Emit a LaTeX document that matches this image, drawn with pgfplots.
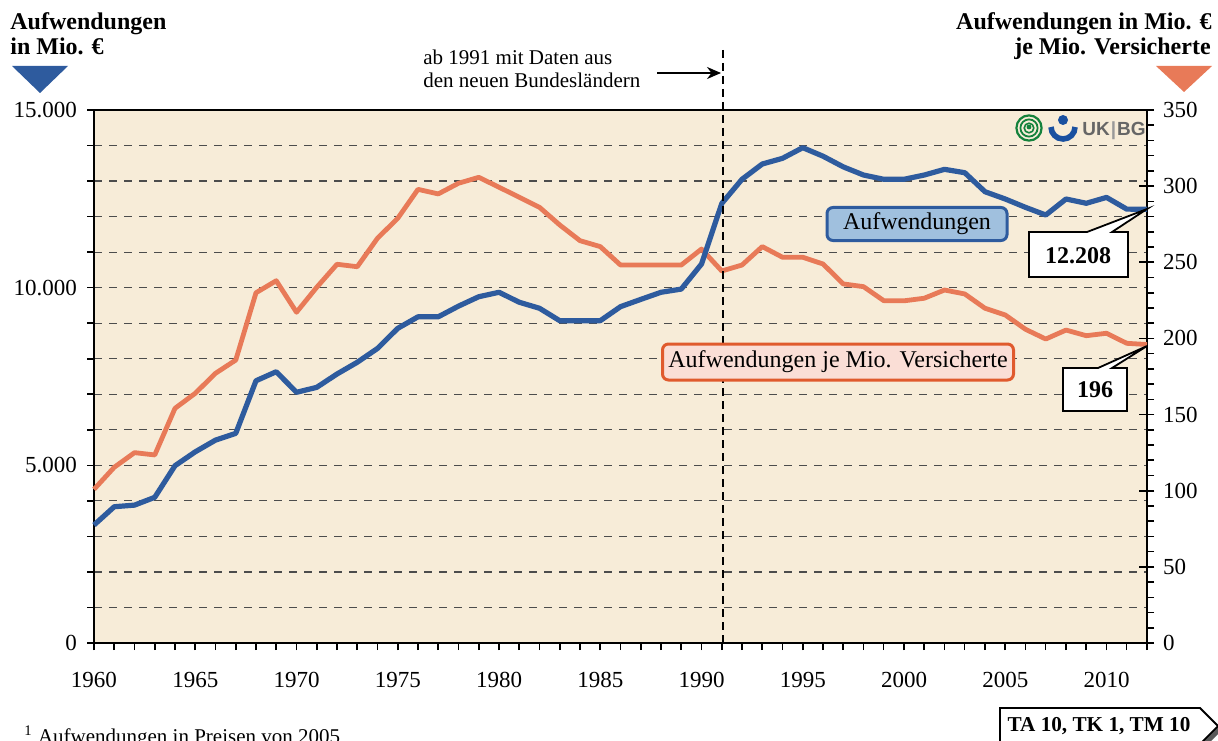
\documentclass[border=0pt]{standalone}
\usepackage{fontspec}
\setmainfont{Liberation Serif}
\newfontfamily\logofont{Liberation Sans}
\usepackage{pgfplots}
\pgfplotsset{compat=1.18}
\usetikzlibrary{arrows.meta}

\definecolor{bgcol}{RGB}{247,236,216}
\definecolor{blueline}{RGB}{46,91,158}
\definecolor{orangeline}{RGB}{232,122,88}
\definecolor{bluebox}{RGB}{160,192,222}
\definecolor{pinkbox}{RGB}{250,222,214}
\definecolor{pinkborder}{RGB}{224,90,45}
\definecolor{logogreen}{RGB}{20,130,60}
\definecolor{logoblue}{RGB}{25,80,160}

\pgfplotsset{
  frame/.style={
    at={(47pt,48.5pt)}, anchor=south west,
    width=526.5pt, height=266.5pt, scale only axis,
    xmin=1960, xmax=2012, clip=false,
    /pgf/number format/assume math mode=true,
    ticklabel style={font=\fontsize{11.5}{13}\selectfont},
    tick align=outside, major tick length=3.5pt, minor tick length=3.5pt,
    tick style={black, line width=0.8pt},
  }
}

\begin{document}
\begin{tikzpicture}
\useasboundingbox (0,0) rectangle (609pt,370pt);

% left scale: frame, grid, x axis
\begin{axis}[frame,
  ymin=0, ymax=15000, scaled y ticks=false,
  axis background/.style={fill=bgcol},
  axis line style={line width=0.9pt},
  xtick={1960,1965,...,2010}, minor xtick={1960,...,2012},
  ytick={0,5000,10000,15000}, minor ytick={1000,2000,...,14000},
  xtick pos=bottom, ytick pos=left,
  ymajorgrids, yminorgrids,
  major grid style={black!70, line width=0.6pt, dash pattern=on 4pt off 3.5pt},
  minor grid style={black!70, line width=0.6pt, dash pattern=on 4pt off 3.5pt},
  yticklabel style={xshift=-1.5pt, /pgf/number format/.cd, 1000 sep={.}},
  xticklabel style={yshift=-7.5pt, /pgf/number format/.cd, 1000 sep={}},
]
\draw[line width=1.4pt] (rel axis cs:0,1) -- (rel axis cs:0,0) -- (rel axis cs:1,0);
\end{axis}

% right scale: Aufwendungen je Mio. Versicherte
\begin{axis}[frame,
  ymin=0, ymax=350,
  axis x line=none, axis y line*=right,
  axis line style={line width=0.9pt},
  ytick={0,50,...,350}, minor ytick={10,20,...,340},
  extra y ticks={0,50,...,350}, extra y tick labels={},
  extra y tick style={tick align=inside, major tick length=4pt},
  yticklabel style={xshift=1pt},
]
\addplot[orangeline, line width=2.4pt, line join=round] coordinates {
(1960,100.9) (1961,115.4) (1962,125.0) (1963,123.5) (1964,154.1)
(1965,164.0) (1966,177.1) (1967,185.8) (1968,230.0) (1969,237.9)
(1970,217.2) (1971,233.6) (1972,248.7) (1973,247.1) (1974,265.8)
(1975,278.9) (1976,297.9) (1977,294.9) (1978,301.9) (1979,305.8)
(1980,299.3) (1981,292.7) (1982,286.1) (1983,274.5) (1984,264.2)
(1985,260.3) (1986,248.2) (1987,248.2) (1988,248.2) (1989,248.2)
(1990,258.7) (1991,244.3) (1992,248.2) (1993,260.3) (1994,253.3)
(1995,253.3) (1996,248.9) (1997,235.8) (1998,234.0) (1999,224.8)
(2000,224.7) (2001,226.4) (2002,231.8) (2003,229.2) (2004,219.8)
(2005,215.4) (2006,206.0) (2007,199.6) (2008,205.5) (2009,201.8)
(2010,203.4) (2011,196.8) (2012,196)
};
\end{axis}

% left scale: Aufwendungen in Mio. EUR
\begin{axis}[frame, ymin=0, ymax=15000, hide axis]
\addplot[blueline, line width=2.6pt, line join=round] coordinates {
(1960,3320) (1961,3835) (1962,3880) (1963,4100) (1964,4990)
(1965,5380) (1966,5710) (1967,5900) (1968,7380) (1969,7635)
(1970,7055) (1971,7195) (1972,7570) (1973,7900) (1974,8290)
(1975,8855) (1976,9180) (1977,9180) (1978,9480) (1979,9745)
(1980,9870) (1981,9590) (1982,9420) (1983,9070) (1984,9070)
(1985,9070) (1986,9465) (1987,9670) (1988,9870) (1989,9960)
(1990,10665) (1991,12370) (1992,13050) (1993,13480) (1994,13640)
(1995,13940) (1996,13700) (1997,13400) (1998,13170) (1999,13050)
(2000,13050) (2001,13170) (2002,13330) (2003,13235) (2004,12700)
(2005,12495) (2006,12260) (2007,12045) (2008,12495) (2009,12375)
(2010,12540) (2011,12210) (2012,12208)
};
\end{axis}

% annotations in pixel coordinates of the reference (origin top left)
\begin{scope}[x=0.5pt, y=-0.5pt, shift={(0,370pt)}]
  % titles
  \node[anchor=base west, inner sep=0, font=\bfseries\fontsize{12}{14}\selectfont] at (10,30) {Aufwendungen};
  \node[anchor=base west, inner sep=0, font=\bfseries\fontsize{12}{14}\selectfont] at (10,55) {in Mio. €};
  \node[anchor=base east, inner sep=0, font=\bfseries\fontsize{12}{14}\selectfont] at (1212,30) {Aufwendungen in Mio. €};
  \node[anchor=base east, inner sep=0, font=\bfseries\fontsize{12}{14}\selectfont] at (1211,55) {je Mio. Versicherte};
  \fill[blueline] (12,66) -- (68,66) -- (40,93) -- cycle;
  \fill[orangeline] (1156,66) -- (1212,66) -- (1184,92) -- cycle;

  % 1991 marker
  \draw[line width=0.6pt, dash pattern=on 4pt off 2.5pt] (723,50) -- (723,643);
  \draw[line width=1.1pt, -{Stealth[length=7pt,width=6pt]}] (657,73) -- (721,73);
  \node[anchor=base west, inner sep=0, font=\fontsize{10.5}{12}\selectfont] at (423,65) {ab 1991 mit Daten aus};
  \node[anchor=base west, inner sep=0, font=\fontsize{10.5}{12}\selectfont] at (423,88) {den neuen Bundesländern};

  % logos
  \draw[logogreen, line width=1.1pt] (1029,128) circle (6.3pt);
  \draw[logogreen, line width=0.9pt] (1029,128) circle (4.3pt);
  \draw[logogreen, line width=0.8pt] (1029,128) circle (2.4pt);
  \fill[logogreen] (1029,127) circle (1.2pt);
  \fill[logoblue] (1063,120) circle (2.5pt);
  \draw[logoblue, line width=2.8pt] (1075,127) arc[start angle=0, end angle=-180, radius=6pt];
  \node[anchor=west, inner sep=0, text=black!60, font=\logofont\bfseries\fontsize{9.5}{11}\selectfont] at (1082,131) {UK\kern0.5pt{\color{black!40}|}\kern0.5pt BG};

  % series labels
  \node[draw=blueline, fill=bluebox, line width=1.5pt, rounded corners=3pt,
        minimum width=90pt, minimum height=16.5pt, inner sep=0,
        font=\fontsize{12}{14}\selectfont] at (917,224) {Aufwendungen};
  \node[draw=pinkborder, fill=pinkbox, line width=1.5pt, rounded corners=3pt,
        minimum width=175.5pt, minimum height=18pt, inner sep=0,
        font=\fontsize{12}{14}\selectfont] at (838,362) {Aufwendungen je Mio. Versicherte};

  % end value callouts
  \draw[fill=white, line width=0.9pt, line join=miter]
    (1029,232) -- (1087,232) -- (1147,209) -- (1112,232) -- (1128,232)
    -- (1128,277) -- (1029,277) -- cycle;
  \node[font=\bfseries\fontsize{12}{14}\selectfont] at (1078,256) {12.208};
  \draw[fill=white, line width=0.9pt, line join=miter]
    (1063,368) -- (1098,368) -- (1147,346) -- (1112,368) -- (1127,368)
    -- (1127,411) -- (1063,411) -- cycle;
  \node[font=\bfseries\fontsize{12}{14}\selectfont] at (1095,390) {196};

  % footnote and reference tag
  \node[anchor=base west, inner sep=0, font=\fontsize{10.5}{12}\selectfont] at (24,743) {\textsuperscript{1} Aufwendungen in Preisen von 2005};
  \fill[black!65] (1004,712) -- (1204,712) -- (1222,730) -- (1204,748) -- (1004,748) -- cycle;
  \draw[fill=white, line width=0.9pt] (1000,708) -- (1200,708) -- (1218,726) -- (1200,744) -- (1000,744) -- cycle;
  \node[anchor=base, inner sep=0, font=\bfseries\fontsize{10.6}{12}\selectfont] at (1099,731) {TA 10, TK 1, TM 10};
\end{scope}
\end{tikzpicture}
\end{document}
